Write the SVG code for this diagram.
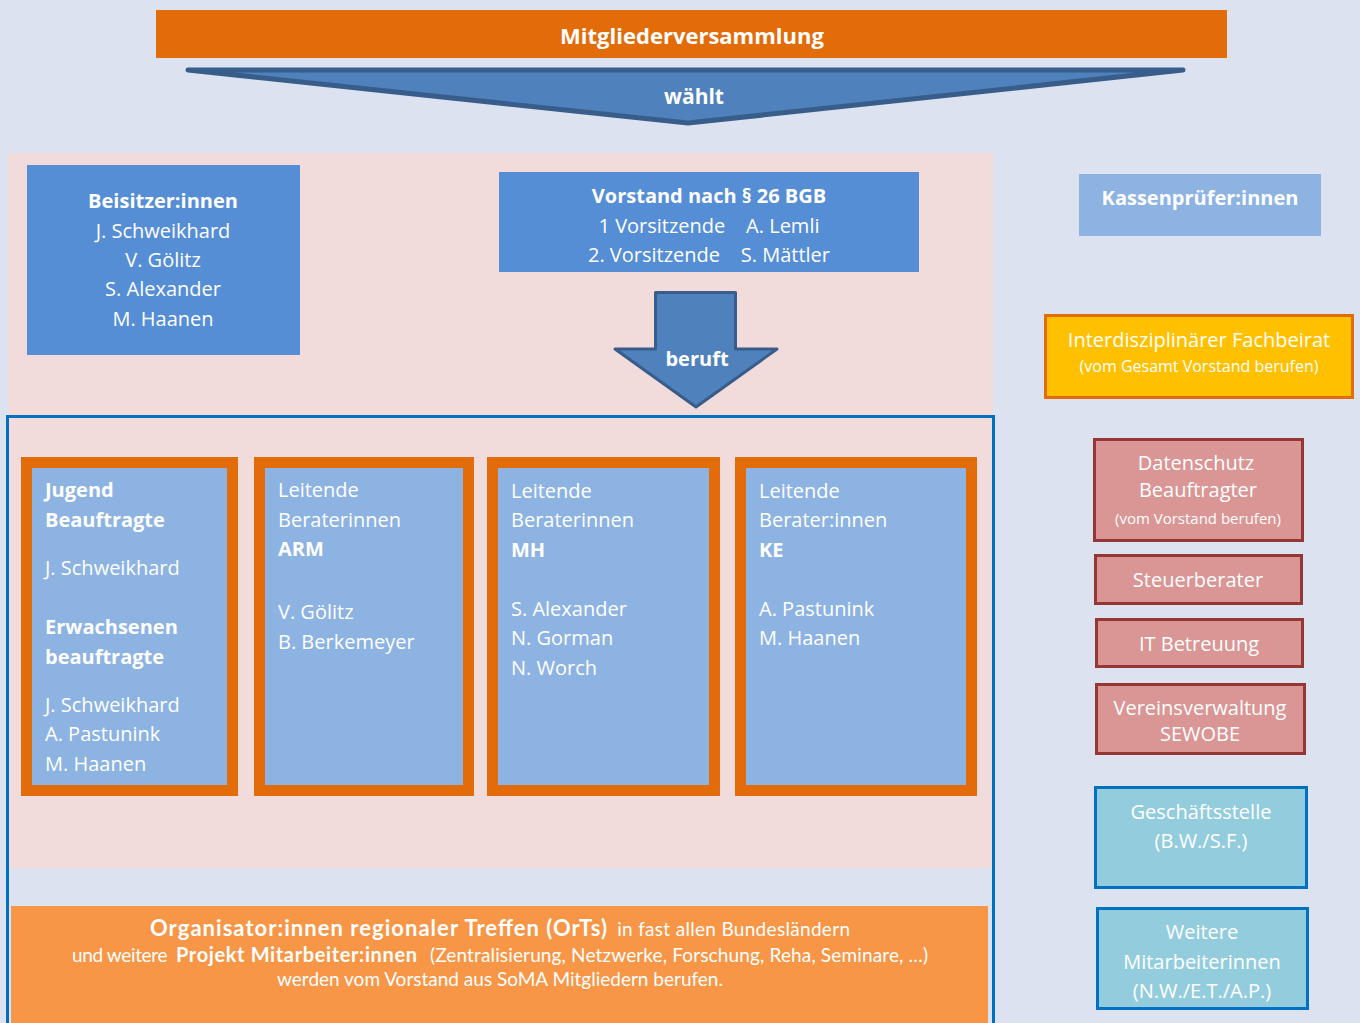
<svg xmlns="http://www.w3.org/2000/svg" width="1360" height="1023" viewBox="0 0 1360 1023">
<style>
text{font-family:"Open Sans","DejaVu Sans",sans-serif;fill:#fff}
.b{font-weight:700}
.c{text-anchor:middle}
.t20{font-size:20px}
.t21{font-size:21px}
.t22{font-size:22px}
.t15{font-size:15px}
.t16{font-size:16px}
.col{fill:#8DB3E2;stroke:#E36C0A;stroke-width:11}
.red{fill:#D99694;stroke:#953735;stroke-width:3}
.teal{fill:#93CDDD;stroke:#0070C0;stroke-width:3}
.dark{fill:#558ED5}
.arr{fill:#4F81BD;stroke:#385D8A;stroke-linejoin:round}
.gill{font-family:"Lato","Liberation Sans",sans-serif;font-size:19px}
</style>
<rect width="1360" height="1023" fill="#DCE2F0"/>
<rect x="8" y="153" width="985" height="715" fill="#F2DCDB"/>
<rect x="7.5" y="416.5" width="986" height="620" fill="none" stroke="#0070C0" stroke-width="3"/>

<g id="mitgliederversammlung">
<rect x="156" y="10" width="1071" height="48" fill="#E36C0A"/>
<text x="692" y="44" class="c b t22">Mitgliederversammlung</text>
</g>

<g id="connectors">
<path class="arr" stroke-width="5" d="M188,70 L1183,70 L688,123 Z"/>
<text x="694" y="104" class="c b t21">wählt</text>
<path class="arr" stroke-width="3" d="M655.5,292.5 H735.5 V349 H777 L696,407 L615,349 H655.5 Z"/>
<text x="697" y="366" class="c b t20">beruft</text>
</g>

<g id="beisitzer">
<rect x="27" y="165" width="273" height="190" class="dark"/>
<text x="163" y="208" class="c b t20">Beisitzer:innen</text>
<text x="163" y="238" class="c t20">J. Schweikhard</text>
<text x="163" y="267" class="c t20">V. Gölitz</text>
<text x="163" y="296" class="c t20">S. Alexander</text>
<text x="163" y="326" class="c t20">M. Haanen</text>
</g>

<g id="vorstand">
<rect x="499" y="172" width="420" height="100" class="dark"/>
<text x="709" y="203" class="c b t20">Vorstand nach § 26 BGB</text>
<text x="709" y="233" class="c t20" xml:space="preserve">1 Vorsitzende    A. Lemli</text>
<text x="709" y="262" class="c t20" xml:space="preserve">2. Vorsitzende    S. Mättler</text>
</g>

<g id="kassenpruefer">
<rect x="1079" y="174" width="242" height="62" fill="#8DB3E2"/>
<text x="1200" y="205" class="c b t20">Kassenprüfer:innen</text>
</g>

<g id="fachbeirat">
<rect x="1045.5" y="315.5" width="307" height="82" fill="#FFC000" stroke="#E36C0A" stroke-width="3"/>
<text x="1199" y="347" class="c t20">Interdisziplinärer Fachbeirat</text>
<text x="1199" y="372" class="c t16">(vom Gesamt Vorstand berufen)</text>
</g>

<g id="datenschutz">
<rect x="1094.5" y="439.5" width="208" height="101" class="red"/>
<text x="1196" y="470" class="c t20">Datenschutz</text>
<text x="1198" y="497" class="c t20">Beauftragter</text>
<text x="1198" y="524" class="c t15">(vom Vorstand berufen)</text>
</g>

<g id="steuerberater">
<rect x="1095.5" y="555.5" width="206" height="48" class="red"/>
<text x="1198" y="587" class="c t20">Steuerberater</text>
</g>

<g id="it">
<rect x="1096.5" y="619.5" width="206" height="47" class="red"/>
<text x="1199" y="651" class="c t20">IT Betreuung</text>
</g>

<g id="vereinsverwaltung">
<rect x="1096.5" y="684.5" width="208" height="69" class="red"/>
<text x="1200" y="715" class="c t20">Vereinsverwaltung</text>
<text x="1200" y="741" class="c t20">SEWOBE</text>
</g>

<g id="geschaeftsstelle">
<rect x="1095.5" y="787.5" width="211" height="100" class="teal"/>
<text x="1201" y="819" class="c t20">Geschäftsstelle</text>
<text x="1201" y="848" class="c t20">(B.W./S.F.)</text>
</g>

<g id="weitere">
<rect x="1097.5" y="908.5" width="210" height="100" class="teal"/>
<text x="1202" y="939" class="c t20">Weitere</text>
<text x="1202" y="969" class="c t20">Mitarbeiterinnen</text>
<text x="1202" y="998" class="c t20">(N.W./E.T./A.P.)</text>
</g>

<g id="jugend">
<rect x="26.5" y="462.5" width="206" height="328" class="col"/>
<text x="45" y="497" class="b t20">Jugend</text>
<text x="45" y="527" class="b t20">Beauftragte</text>
<text x="45" y="575" class="t20">J. Schweikhard</text>
<text x="45" y="634" class="b t20">Erwachsenen</text>
<text x="45" y="664" class="b t20">beauftragte</text>
<text x="45" y="712" class="t20">J. Schweikhard</text>
<text x="45" y="741" class="t20">A. Pastunink</text>
<text x="45" y="771" class="t20">M. Haanen</text>
</g>

<g id="arm">
<rect x="259.5" y="462.5" width="209" height="328" class="col"/>
<text x="278" y="497" class="t20">Leitende</text>
<text x="278" y="527" class="t20">Beraterinnen</text>
<text x="278" y="556" class="b t20">ARM</text>
<text x="278" y="619" class="t20">V. Gölitz</text>
<text x="278" y="649" class="t20">B. Berkemeyer</text>
</g>

<g id="mh">
<rect x="492.5" y="462.5" width="222" height="328" class="col"/>
<text x="511" y="498" class="t20">Leitende</text>
<text x="511" y="527" class="t20">Beraterinnen</text>
<text x="511" y="557" class="b t20">MH</text>
<text x="511" y="616" class="t20">S. Alexander</text>
<text x="511" y="645" class="t20">N. Gorman</text>
<text x="511" y="675" class="t20">N. Worch</text>
</g>

<g id="ke">
<rect x="740.5" y="462.5" width="231" height="328" class="col"/>
<text x="759" y="498" class="t20">Leitende</text>
<text x="759" y="527" class="t20">Berater:innen</text>
<text x="759" y="557" class="b t20">KE</text>
<text x="759" y="616" class="t20">A. Pastunink</text>
<text x="759" y="645" class="t20">M. Haanen</text>
</g>

<g id="orts">
<rect x="11" y="906" width="977" height="117" fill="#F79646"/>
<text x="150" y="936" class="gill"><tspan font-weight="700" font-size="22" textLength="457" lengthAdjust="spacing">Organisator:innen regionaler Treffen (OrTs)</tspan><tspan x="612" textLength="238" lengthAdjust="spacing"> in fast allen Bundesländern</tspan></text>
<text x="72" y="962" class="gill" xml:space="preserve"><tspan textLength="100" lengthAdjust="spacing">und weitere </tspan><tspan x="176" font-weight="700" font-size="20" textLength="241" lengthAdjust="spacing">Projekt Mitarbeiter:innen</tspan><tspan x="430" textLength="498" lengthAdjust="spacing">(Zentralisierung, Netzwerke, Forschung, Reha, Seminare, …)</tspan></text>
<text x="500" y="986" class="c gill">werden vom Vorstand aus SoMA Mitgliedern berufen.</text>
</g>
</svg>
